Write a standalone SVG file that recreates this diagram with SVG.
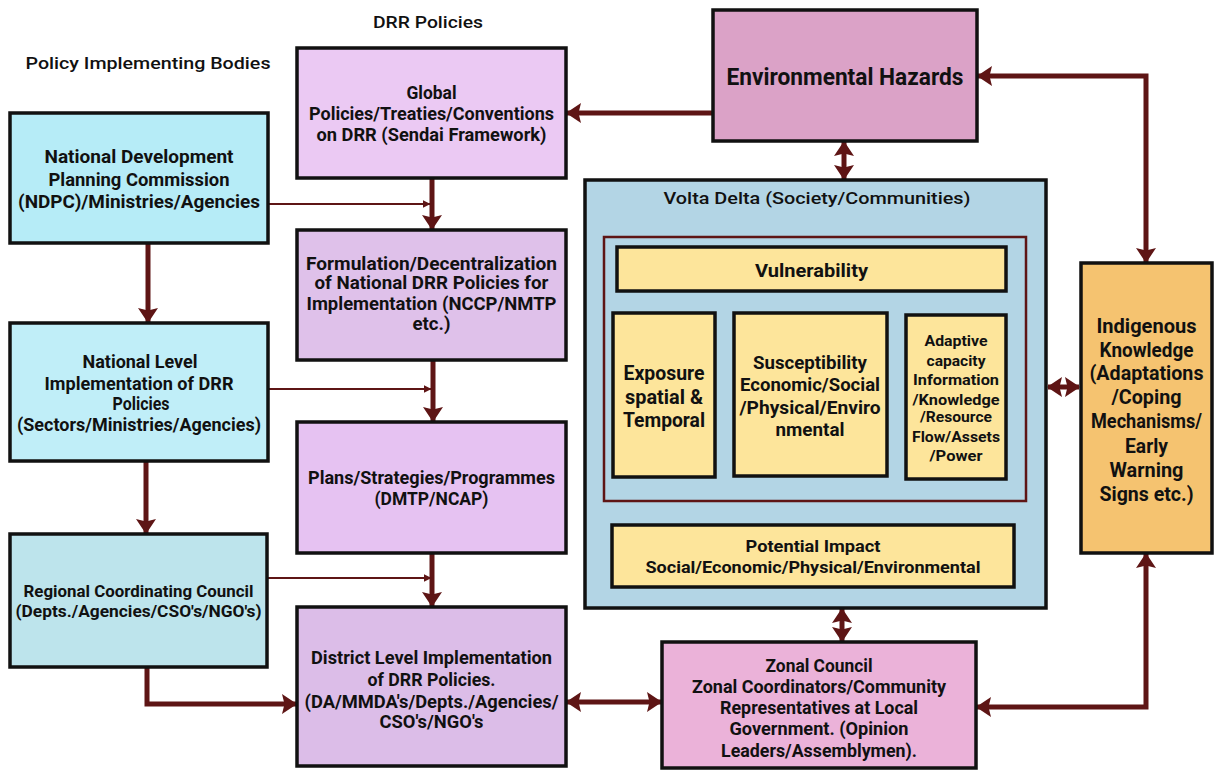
<svg xmlns="http://www.w3.org/2000/svg" width="1214" height="771" viewBox="0 0 1214 771">
<style>
.box{stroke:#111;stroke-width:3.5}
.t{font-family:"Roboto","Liberation Sans",sans-serif;font-weight:700;fill:#111;text-anchor:middle}
.h{font-weight:500}
.c{fill:none;stroke:#5e1515;stroke-width:5}
.thin{fill:none;stroke:#5e1515;stroke-width:2.2}
</style>
<defs>
<marker id="ah" viewBox="0 0 15 20" refX="14" refY="10" markerWidth="15" markerHeight="20" markerUnits="userSpaceOnUse" orient="auto-start-reverse"><path d="M0,0 L15,10 L0,20 L2.5,10 Z" fill="#5e1515"/></marker>
<marker id="as" viewBox="0 0 8 8" refX="7.5" refY="4" markerWidth="8" markerHeight="8" markerUnits="userSpaceOnUse" orient="auto-start-reverse"><path d="M0,0 L8,4 L0,8 Z" fill="#5e1515"/></marker>
</defs>
<rect width="1214" height="771" fill="#fff"/>

<text class="t h" x="428" y="28" font-size="17" textLength="110" lengthAdjust="spacingAndGlyphs">DRR Policies</text>
<text class="t h" x="148" y="69" font-size="17" textLength="245" lengthAdjust="spacingAndGlyphs">Policy Implementing Bodies</text>

<g id="connectors">
<path class="c" d="M713,113 H567" marker-end="url(#ah)"/>
<path class="c" d="M432,178 V229" marker-end="url(#ah)"/>
<path class="thin" d="M268,204 H430" marker-end="url(#as)"/>
<path class="c" d="M433,360 V421" marker-end="url(#ah)"/>
<path class="thin" d="M268,389 H431" marker-end="url(#as)"/>
<path class="c" d="M432,553 V606" marker-end="url(#ah)"/>
<path class="thin" d="M267,578 H431" marker-end="url(#as)"/>
<path class="c" d="M148,243 V322" marker-end="url(#ah)"/>
<path class="c" d="M146,461 V533" marker-end="url(#ah)"/>
<path class="c" d="M147,667 V704 H296" marker-end="url(#ah)"/>
<path class="c" d="M567,702 H661" marker-start="url(#ah)" marker-end="url(#ah)"/>
<path class="c" d="M844,142 V179" marker-start="url(#ah)" marker-end="url(#ah)"/>
<path class="thin" d="M812,208 V236" marker-start="url(#as)" marker-end="url(#as)"/>
<path class="c" d="M663,312 V292" marker-end="url(#ah)"/>
<path class="c" d="M811,312 V292" marker-end="url(#ah)"/>
<path class="c" d="M957,314 V292" marker-end="url(#ah)"/>
<path class="c" d="M816,501 V524" marker-end="url(#ah)"/>
<path class="c" d="M842,609 V641" marker-start="url(#ah)" marker-end="url(#ah)"/>
<path class="c" d="M1048,387 H1079" marker-start="url(#ah)" marker-end="url(#ah)"/>
<path class="c" d="M978,76 H1146 V262" marker-start="url(#ah)" marker-end="url(#ah)"/>
<path class="c" d="M977,707 H1146 V554" marker-start="url(#ah)" marker-end="url(#ah)"/>
</g>

<g id="ndpc">
<rect class="box" x="10" y="113" width="258" height="130" fill="#b6ecf7"/>
<text class="t" x="139" y="163" font-size="18" textLength="189" lengthAdjust="spacingAndGlyphs">National Development</text>
<text class="t" x="139" y="186" font-size="18" textLength="181" lengthAdjust="spacingAndGlyphs">Planning Commission</text>
<text class="t" x="139" y="208" font-size="18" textLength="242" lengthAdjust="spacingAndGlyphs">(NDPC)/Ministries/Agencies</text>
</g>

<g id="national">
<rect class="box" x="10" y="323" width="258" height="138" fill="#c0eef8"/>
<text class="t" x="140" y="368" font-size="18" textLength="115" lengthAdjust="spacingAndGlyphs">National Level</text>
<text class="t" x="139" y="390" font-size="18" textLength="189" lengthAdjust="spacingAndGlyphs">Implementation of DRR</text>
<text class="t" x="141" y="410" font-size="18" textLength="57" lengthAdjust="spacingAndGlyphs">Policies</text>
<text class="t" x="139" y="431" font-size="18" textLength="244" lengthAdjust="spacingAndGlyphs">(Sectors/Ministries/Agencies)</text>
</g>

<g id="regional">
<rect class="box" x="10" y="534" width="257" height="133" fill="#bde4ec"/>
<text class="t" x="138.5" y="597" font-size="16.5" textLength="230" lengthAdjust="spacingAndGlyphs">Regional Coordinating Council</text>
<text class="t" x="138.5" y="617" font-size="16.5" textLength="246" lengthAdjust="spacingAndGlyphs">(Depts./Agencies/CSO's/NGO's)</text>
</g>

<g id="global">
<rect class="box" x="297" y="48" width="269" height="130" fill="#ebc9f3"/>
<text class="t" x="431.5" y="99" font-size="18" textLength="50" lengthAdjust="spacingAndGlyphs">Global</text>
<text class="t" x="431.5" y="120" font-size="18" textLength="245" lengthAdjust="spacingAndGlyphs">Policies/Treaties/Conventions</text>
<text class="t" x="431.5" y="141" font-size="18" textLength="230" lengthAdjust="spacingAndGlyphs">on DRR (Sendai Framework)</text>
</g>

<g id="formulation">
<rect class="box" x="297" y="230" width="269" height="130" fill="#dfc1ea"/>
<text class="t" x="431.5" y="269.5" font-size="18" textLength="251" lengthAdjust="spacingAndGlyphs">Formulation/Decentralization</text>
<text class="t" x="431.5" y="289" font-size="18" textLength="234" lengthAdjust="spacingAndGlyphs">of National DRR Policies for</text>
<text class="t" x="431.5" y="309.5" font-size="18" textLength="250" lengthAdjust="spacingAndGlyphs">Implementation (NCCP/NMTP</text>
<text class="t" x="431.5" y="329.5" font-size="18" textLength="38" lengthAdjust="spacingAndGlyphs">etc.)</text>
</g>

<g id="plans">
<rect class="box" x="297" y="422" width="269" height="131" fill="#e6c2f2"/>
<text class="t" x="431.5" y="484" font-size="18" textLength="247" lengthAdjust="spacingAndGlyphs">Plans/Strategies/Programmes</text>
<text class="t" x="431.5" y="505" font-size="18" textLength="114" lengthAdjust="spacingAndGlyphs">(DMTP/NCAP)</text>
</g>

<g id="district">
<rect class="box" x="297" y="607" width="269" height="159" fill="#dcbde8"/>
<text class="t" x="431.5" y="664" font-size="18" textLength="241" lengthAdjust="spacingAndGlyphs">District Level Implementation</text>
<text class="t" x="431.5" y="686" font-size="18" textLength="128" lengthAdjust="spacingAndGlyphs">of DRR Policies.</text>
<text class="t" x="431.5" y="708" font-size="18" textLength="254" lengthAdjust="spacingAndGlyphs">(DA/MMDA's/Depts./Agencies/</text>
<text class="t" x="431.5" y="728" font-size="18" textLength="104" lengthAdjust="spacingAndGlyphs">CSO's/NGO's</text>
</g>

<g id="hazards">
<rect class="box" x="713" y="10" width="264" height="131" fill="#dba2c7"/>
<text class="t" x="845" y="85" font-size="23" textLength="237" lengthAdjust="spacingAndGlyphs">Environmental Hazards</text>
</g>

<g id="volta">
<rect class="box" x="585" y="180" width="461" height="428" fill="#b3d5e5"/>
<text class="t h" x="817" y="204" font-size="17" textLength="307" lengthAdjust="spacingAndGlyphs">Volta Delta (Society/Communities)</text>
<rect x="604" y="237" width="422" height="264" fill="none" stroke="#5e1515" stroke-width="2.5"/>
</g>

<g id="vulnerability">
<rect class="box" x="617" y="247" width="389" height="44" fill="#fde59b"/>
<text class="t" x="811.5" y="277" font-size="19" textLength="113" lengthAdjust="spacingAndGlyphs">Vulnerability</text>
</g>

<g id="exposure">
<rect class="box" x="613" y="313" width="102" height="164" fill="#fde59b"/>
<text class="t" x="664" y="379.5" font-size="21" textLength="81" lengthAdjust="spacingAndGlyphs">Exposure</text>
<text class="t" x="664" y="403.5" font-size="21" textLength="78" lengthAdjust="spacingAndGlyphs">spatial &amp;</text>
<text class="t" x="664" y="426.5" font-size="21" textLength="82" lengthAdjust="spacingAndGlyphs">Temporal</text>
</g>

<g id="susceptibility">
<rect class="box" x="734" y="313" width="153" height="163" fill="#fde59b"/>
<text class="t" x="810" y="369" font-size="19" textLength="114" lengthAdjust="spacingAndGlyphs">Susceptibility</text>
<text class="t" x="810" y="391" font-size="19" textLength="140" lengthAdjust="spacingAndGlyphs">Economic/Social</text>
<text class="t" x="810" y="414" font-size="19" textLength="141" lengthAdjust="spacingAndGlyphs">/Physical/Enviro</text>
<text class="t" x="810" y="436" font-size="19" textLength="69" lengthAdjust="spacingAndGlyphs">nmental</text>
</g>

<g id="adaptive">
<rect class="box" x="906" y="315" width="100" height="164" fill="#fde59b"/>
<text class="t" x="956" y="346" font-size="15" textLength="63" lengthAdjust="spacingAndGlyphs">Adaptive</text>
<text class="t" x="956" y="366" font-size="15" textLength="59" lengthAdjust="spacingAndGlyphs">capacity</text>
<text class="t" x="956" y="384.5" font-size="15" textLength="86" lengthAdjust="spacingAndGlyphs">Information</text>
<text class="t" x="956" y="404.5" font-size="15" textLength="87" lengthAdjust="spacingAndGlyphs">/Knowledge</text>
<text class="t" x="956" y="422" font-size="15" textLength="72" lengthAdjust="spacingAndGlyphs">/Resource</text>
<text class="t" x="956" y="442" font-size="15" textLength="88" lengthAdjust="spacingAndGlyphs">Flow/Assets</text>
<text class="t" x="956" y="460.5" font-size="15" textLength="53" lengthAdjust="spacingAndGlyphs">/Power</text>
</g>

<g id="impact">
<rect class="box" x="612" y="525" width="402" height="62" fill="#fde59b"/>
<text class="t" x="813" y="552" font-size="17" textLength="135" lengthAdjust="spacingAndGlyphs">Potential Impact</text>
<text class="t" x="813" y="573" font-size="17" textLength="335" lengthAdjust="spacingAndGlyphs">Social/Economic/Physical/Environmental</text>
</g>

<g id="indigenous">
<rect class="box" x="1081" y="263" width="131" height="290" fill="#f5c370"/>
<text class="t" x="1146.5" y="332.5" font-size="20" textLength="100" lengthAdjust="spacingAndGlyphs">Indigenous</text>
<text class="t" x="1146.5" y="356.5" font-size="20" textLength="94" lengthAdjust="spacingAndGlyphs">Knowledge</text>
<text class="t" x="1146.5" y="380" font-size="20" textLength="114" lengthAdjust="spacingAndGlyphs">(Adaptations</text>
<text class="t" x="1146.5" y="404" font-size="20" textLength="70" lengthAdjust="spacingAndGlyphs">/Coping</text>
<text class="t" x="1146.5" y="428" font-size="20" textLength="111" lengthAdjust="spacingAndGlyphs">Mechanisms/</text>
<text class="t" x="1146.5" y="452.5" font-size="20" textLength="43" lengthAdjust="spacingAndGlyphs">Early</text>
<text class="t" x="1146.5" y="476.5" font-size="20" textLength="74" lengthAdjust="spacingAndGlyphs">Warning</text>
<text class="t" x="1146.5" y="500.5" font-size="20" textLength="94" lengthAdjust="spacingAndGlyphs">Signs etc.)</text>
</g>

<g id="zonal">
<rect class="box" x="662" y="642" width="314" height="126" fill="#ebb2d9"/>
<text class="t" x="819" y="671.5" font-size="18" textLength="107" lengthAdjust="spacingAndGlyphs">Zonal Council</text>
<text class="t" x="819" y="693" font-size="18" textLength="254" lengthAdjust="spacingAndGlyphs">Zonal Coordinators/Community</text>
<text class="t" x="819" y="714" font-size="18" textLength="198" lengthAdjust="spacingAndGlyphs">Representatives at Local</text>
<text class="t" x="819" y="734.5" font-size="18" textLength="179" lengthAdjust="spacingAndGlyphs">Government. (Opinion</text>
<text class="t" x="819" y="756.5" font-size="18" textLength="196" lengthAdjust="spacingAndGlyphs">Leaders/Assemblymen).</text>
</g>
</svg>
